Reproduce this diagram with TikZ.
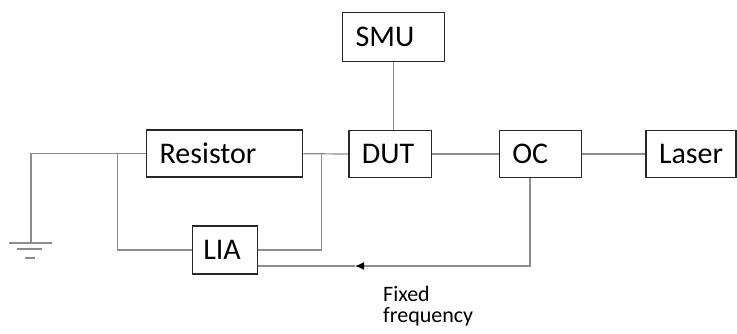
\documentclass[tikz,border=0pt]{standalone}
\usepackage{fontspec}
\setmainfont{Carlito}
\usetikzlibrary{arrows.meta,positioning,calc}
\definecolor{wiregray}{RGB}{140,140,140}
\definecolor{boxgray}{RGB}{40,40,40}

\begin{document}
\begin{tikzpicture}[
    x=1pt, y=-1pt,
    every node/.style={font=\fontsize{30}{34}\selectfont},
    unit/.style={rectangle, draw=boxgray, line width=1.5pt, minimum height=47pt, inner xsep=13pt, inner ysep=0pt, align=left},
    wire/.style={draw=wiregray, line width=1.2pt},
    arrow/.style={wire, -{Latex[length=9pt,width=8pt,color=black]}}
]
    \useasboundingbox (0,0) rectangle (737,333);

    % Main chain
    \node[unit, text width=130pt] (res) at (224.7,153.7) {Resistor};
    \node[unit, text width=56.7pt] (dut) at (390.3,154) {DUT};
    \node[unit, text width=56.4pt] (oc) at (540.5,154) {OC};
    \node[unit, text width=64pt] (laser) at (691,154) {Laser};

    % Source and lock-in
    \node[unit, text width=75.6pt, minimum height=49pt] (smu) at (393.5,37.2) {SMU};
    \node[unit, text width=43pt, inner xsep=11pt, minimum height=48pt] (lia) at (224.8,250) {LIA};

    % Label
    \node[font=\fontsize{22}{21}\selectfont, align=left, anchor=north west, inner sep=0pt] (fixed) at (383,286) {Fixed\\frequency};

    % Junctions
    \coordinate (jl) at (117.3,154);
    \coordinate (jr) at (321.7,154);
    \coordinate (gnd) at (31,243);
    \coordinate (tap) at (530,266);
    \coordinate (tip) at (355,266);

    % Edges
    \draw[wire] (res.west) -- (gnd |- res.west) -- (gnd);
    \draw[wire] (jl) -- (jl |- lia.west) -- (lia.west);
    \draw[wire] (jr) -- (jr |- lia.east) -- (lia.east);
    \draw[wire] (res.east) -- (dut.west);
    \draw[wire] (smu.south) -- (smu.south |- dut.north);
    \draw[wire] (dut.east) -- (oc.west);
    \draw[wire] (oc.east) -- (laser.west);
    \draw[arrow] (tap |- oc.south) -- (tap) -- (tip);
    \draw[wire] (tip) -- (lia.east |- tip);

    % Ground
    \draw[wire] ($(gnd)+(-22,0)$) -- ($(gnd)+(21,0)$);
    \draw[wire] ($(gnd)+(-14,6)$) -- ($(gnd)+(11,6)$);
    \draw[wire] ($(gnd)+(-6,15)$) -- ($(gnd)+(4,15)$);
\end{tikzpicture}
\end{document}
